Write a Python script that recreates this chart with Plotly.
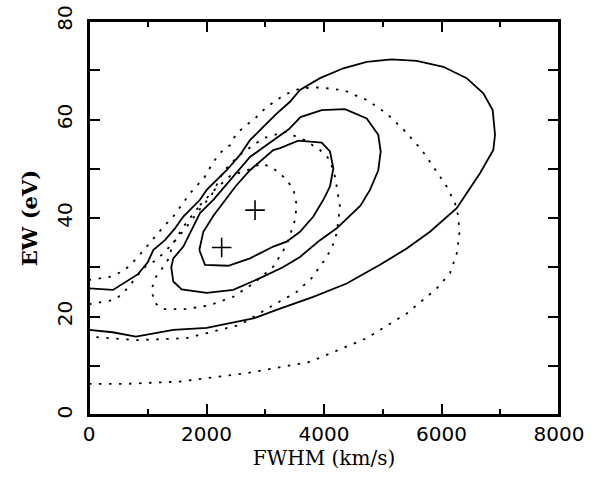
import plotly.graph_objects as go

# ---- data (FWHM in km/s, EW in eV) ----
# solid contours
s1_x = [0, 400, 800, 1435, 2003, 2797, 3251, 3818, 4386, 4953, 5408, 5804, 6259, 6655, 6882, 6911, 6871, 6712, 6428, 6031, 5578, 5152, 4727, 4329, 3932, 3591, 3421, 3194, 2967, 2740, 2570, 2343, 2003, 1889, 1606, 1464, 1293, 1094, 1000, 834, 408, 0]
s1_y = [17.3, 16.8, 15.9, 17.3, 17.7, 19.6, 21.6, 24.0, 26.7, 30.5, 33.8, 37.2, 42.0, 49.1, 53.8, 56.9, 61.9, 65.3, 68.4, 70.7, 71.9, 72.2, 71.7, 70.4, 68.4, 66.0, 63.6, 61.2, 58.5, 55.8, 52.8, 49.7, 45.7, 43.7, 40.3, 37.9, 35.5, 33.5, 31.0, 28.6, 25.4, 25.7]

s2_x = [4357, 4727, 4924, 4965, 4924, 4783, 4620, 4400, 4216, 3932, 3591, 3300, 2911, 2456, 2003, 1578, 1435, 1400, 1435, 1606, 1889, 2116, 2400, 2740, 3137, 3400, 3600, 3961, 4357]
s2_y = [62.1, 60.2, 56.9, 53.5, 49.7, 45.7, 42.5, 40.0, 37.9, 35.5, 32.1, 30.0, 27.8, 25.4, 24.8, 25.5, 27.1, 30.0, 31.8, 34.2, 41.0, 43.7, 47.7, 52.4, 55.8, 58.0, 60.5, 61.9, 62.1]

s3_x = [1878, 1946, 2120, 2315, 2500, 2740, 3137, 3251, 3563, 3961, 4102, 4159, 4102, 3989, 3818, 3591, 3364, 3137, 2740, 2371, 1974, 1878]
s3_y = [33.5, 37.2, 40.5, 43.7, 46.5, 49.7, 53.8, 54.2, 55.7, 55.3, 53.5, 50.1, 46.4, 43.7, 40.3, 37.2, 35.2, 34.2, 31.8, 30.3, 30.5, 33.5]

# dotted contours
da_x = [0, 600, 1549, 2684, 3762, 4727, 5408, 5919, 6145, 6259, 6304, 6287, 6230, 6088, 5861, 5663, 5464, 5350, 5067, 4727, 4613, 4329, 4216, 3932, 3818, 3591, 3364, 3194, 2967, 2826, 2684, 2513, 2400, 2258, 2116, 1974, 1719, 1549, 1435, 1265, 1038, 834, 607, 380, 0]
da_y = [6.3, 6.3, 6.8, 8.5, 10.8, 15.6, 20.6, 25.7, 28.8, 32.8, 36.9, 40.3, 43.0, 46.4, 50.4, 53.8, 56.5, 58.0, 61.2, 64.0, 64.5, 66.0, 66.1, 66.5, 66.5, 66.3, 65.2, 64.0, 61.9, 60.2, 58.9, 57.2, 54.8, 53.5, 51.4, 48.4, 45.0, 42.3, 40.3, 38.2, 34.9, 32.1, 29.4, 28.1, 27.4]

db_x = [0, 437, 579, 721, 919, 1150, 1400, 1650, 1900, 2088, 2286, 2541, 2797, 2967, 3336, 3676, 3932, 4102, 4187, 4272, 4216, 4131, 3989, 3790, 3506, 3307, 2570, 2116, 1656, 811, 0]
db_y = [22.5, 23.4, 24.7, 26.7, 29.8, 31.5, 34.5, 38.0, 42.0, 44.7, 49.4, 52.6, 54.8, 56.2, 57.5, 55.8, 53.8, 51.8, 48.4, 42.3, 36.9, 33.8, 31.1, 27.8, 24.7, 23.5, 18.3, 16.9, 15.6, 15.2, 15.9]

dc_x = [1889, 2116, 2400, 2740, 2939, 3137, 3307, 3478, 3535, 3506, 3364, 3137, 2797, 2456, 2059, 1663, 1265, 1123, 1061, 1140, 1225, 1345, 1435, 1606, 1889]
dc_y = [42.6, 45.5, 48.5, 49.9, 51.1, 50.1, 48.4, 46.0, 42.6, 39.6, 34.5, 30.1, 26.7, 24.0, 22.3, 21.5, 21.5, 22.7, 25.4, 28.1, 29.4, 31.5, 34.9, 38.2, 42.6]

# best-fit points
best_x = [2258, 2826]
best_y = [34.0, 41.6]

x_ticks = [0, 2000, 4000, 6000, 8000]
y_ticks = [0, 20, 40, 60, 80]

fig = go.Figure()

solid = dict(color="black", width=1.8)
dotted = dict(color="black", width=1.8, dash="2.5px,7.5px")

for xs, ys in [(s1_x, s1_y), (s2_x, s2_y), (s3_x, s3_y)]:
    fig.add_trace(go.Scatter(x=xs, y=ys, mode="lines", line=solid, showlegend=False, hoverinfo="skip"))
for xs, ys in [(da_x, da_y), (db_x, db_y), (dc_x, dc_y)]:
    fig.add_trace(go.Scatter(x=xs, y=ys, mode="lines", line=dotted, showlegend=False, hoverinfo="skip"))

fig.add_trace(go.Scatter(x=best_x, y=best_y, mode="markers",
                         marker=dict(symbol="cross-thin", size=14, line=dict(color="black", width=1.6)),
                         showlegend=False, hoverinfo="skip"))
# same points, invisible, attached to the top axis so that axis is drawn
fig.add_trace(go.Scatter(x=best_x, y=best_y, mode="markers", xaxis="x2",
                         marker=dict(opacity=0), showlegend=False, hoverinfo="skip"))

axis_common = dict(
    showline=True, linecolor="black", linewidth=2,
    ticks="inside", ticklen=11, tickwidth=2, tickcolor="black",
    showgrid=False, zeroline=False, automargin=False,
    tickfont=dict(family="DejaVu Sans", size=20, color="black"),
)

fig.update_layout(
    xaxis=dict(
        range=[0, 8000], tickvals=x_ticks, ticktext=[str(v) for v in x_ticks], mirror=False,
        minor=dict(dtick=1000, ticklen=6, tickwidth=2, ticks="inside", tickcolor="black"),
        title=dict(text="FWHM (km/s)", font=dict(family="DejaVu Serif", size=20, color="black"), standoff=2),
        **axis_common,
    ),
    xaxis2=dict(
        overlaying="x", side="top", anchor="y", range=[0, 8000], tickvals=x_ticks,
        showticklabels=False, mirror=False,
        minor=dict(dtick=1000, ticklen=6, tickwidth=2, ticks="inside", tickcolor="black"),
        **axis_common,
    ),
    yaxis=dict(
        range=[0, 80], tickvals=y_ticks, ticktext=[str(v) for v in y_ticks], tickangle=-90,
        mirror="allticks",
        minor=dict(dtick=10, ticklen=6, tickwidth=2, ticks="inside", tickcolor="black"),
        ticklabelstandoff=7,
        title=dict(text="<b>EW (eV)</b>", font=dict(family="DejaVu Serif", size=21, color="black"), standoff=10),
        **axis_common,
    ),
    width=598, height=483,
    margin=dict(l=89, r=39, t=21, b=68),
    paper_bgcolor="white", plot_bgcolor="white",
    shapes=[dict(type="rect", xref="x domain", yref="y domain", x0=0, x1=1, y0=0, y1=1,
                 line=dict(color="black", width=2), layer="above")],
)

# remove the default page body margin so the figure sits at the window's top-left corner
fig.write_html(
    "out.html",
    config={"displayModeBar": False},
    post_script="document.body.style.margin='0';document.body.style.overflow='hidden';",
)
